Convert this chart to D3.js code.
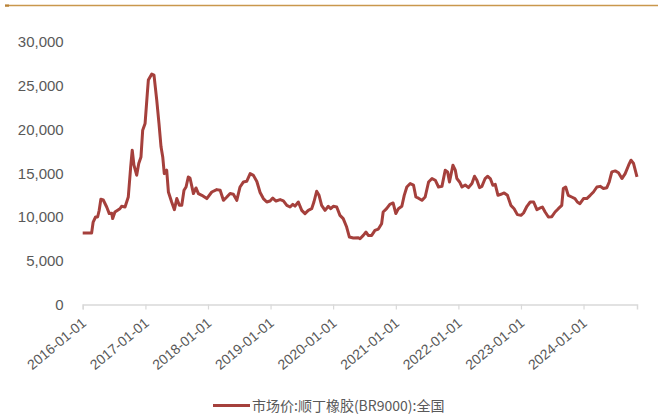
<!DOCTYPE html>
<html>
<head>
<meta charset="utf-8">
<script src="https://cdn.jsdelivr.net/npm/d3@7/dist/d3.min.js"></script>
<style>
  html, body { margin: 0; padding: 0; background: #fff; }
  svg { display: block; }
  text { font-family: "Liberation Sans", Arial, "Noto Sans CJK SC", sans-serif; fill: #595959; }
</style>
</head>
<body>
<svg id="chart" width="658" height="420"></svg>
<script>
// 市场价:顺丁橡胶(BR9000):全国 — 元/吨
const seriesName = "市场价:顺丁橡胶(BR9000):全国";

const dates = [
  "2016-01-01","2016-02-22","2016-03-02","2016-03-16","2016-03-28","2016-04-06","2016-04-16","2016-04-30",
  "2016-05-20","2016-06-04","2016-06-18","2016-06-24","2016-07-07","2016-08-05","2016-08-15","2016-09-04",
  "2016-09-23","2016-10-07","2016-10-16","2016-10-26","2016-11-11","2016-11-23","2016-12-06","2016-12-16",
  "2016-12-30","2017-01-12","2017-01-18","2017-02-07","2017-02-20","2017-03-08","2017-03-21","2017-04-02",
  "2017-04-12","2017-04-21","2017-05-05","2017-05-15","2017-06-03","2017-06-19","2017-07-03","2017-07-18",
  "2017-08-01","2017-08-14","2017-08-26","2017-09-08","2017-09-18","2017-10-08","2017-10-23","2017-11-06",
  "2017-11-26","2017-12-25","2018-01-23","2018-02-21","2018-03-13","2018-04-01","2018-04-21","2018-05-10",
  "2018-05-29","2018-06-18","2018-07-07","2018-07-27","2018-08-15","2018-09-04","2018-09-23","2018-10-13",
  "2018-11-01","2018-11-20","2018-12-10","2018-12-29","2019-01-14","2019-02-02","2019-02-26","2019-03-17",
  "2019-04-06","2019-04-25","2019-05-11","2019-05-24","2019-06-12","2019-07-02","2019-07-21","2019-08-09",
  "2019-08-29","2019-09-11","2019-09-27","2019-10-11","2019-10-26","2019-11-15","2019-12-04","2019-12-18",
  "2020-01-02","2020-01-22","2020-02-10","2020-02-29","2020-03-20","2020-04-05","2020-04-28","2020-05-27",
  "2020-06-06","2020-06-25","2020-07-11","2020-07-24","2020-08-13","2020-09-01","2020-09-21","2020-10-10",
  "2020-10-19","2020-11-08","2020-11-27","2020-12-16","2021-01-01","2021-01-16","2021-02-05","2021-02-19",
  "2021-03-06","2021-03-26","2021-04-14","2021-04-28","2021-05-13","2021-06-02","2021-06-21","2021-07-11",
  "2021-07-31","2021-08-19","2021-09-07","2021-09-27","2021-10-16","2021-10-30","2021-11-10","2021-11-30",
  "2021-12-14","2021-12-23","2022-01-08","2022-01-22","2022-02-10","2022-03-01","2022-03-21","2022-04-05",
  "2022-04-19","2022-05-04","2022-05-18","2022-06-06","2022-06-20","2022-07-06","2022-07-21","2022-08-04",
  "2022-08-20","2022-09-06","2022-09-25","2022-10-14","2022-11-03","2022-11-22","2022-12-11","2023-01-01",
  "2023-01-16","2023-02-05","2023-02-24","2023-03-16","2023-04-04","2023-04-23","2023-05-06","2023-05-22",
  "2023-06-10","2023-06-30","2023-07-19","2023-08-07","2023-08-27","2023-09-05","2023-09-19","2023-10-04",
  "2023-10-24","2023-11-12","2023-11-26","2023-12-11","2024-01-01","2024-01-20","2024-02-09","2024-02-28",
  "2024-03-19","2024-04-07","2024-04-26","2024-05-16","2024-05-30","2024-06-14","2024-07-04","2024-07-23",
  "2024-08-12","2024-08-31","2024-09-20","2024-10-04","2024-10-19","2024-11-08"
];

const prices = [
  8130, 8130, 9390, 9960, 9960, 10700, 11980, 11900,
  11100, 10350, 10400, 9780, 10530, 10900, 11180, 11100,
  12240, 15660, 17570, 15860, 14720, 16050, 16800, 19850,
  20610, 24030, 25550, 26240, 26120, 23270, 20610, 17950,
  16800, 14900, 15290, 12810, 11670, 10800, 12060, 11290,
  11290, 13000, 13380, 14520, 14400, 12630, 13270, 12630,
  12430, 12060, 12810, 13080, 13000, 11860, 12240, 12630,
  12550, 11860, 13380, 13950, 14030, 14900, 14700, 14000,
  12750, 12060, 11670, 11780, 12120, 11780, 11940, 11800,
  11290, 11100, 11410, 11200, 11670, 10720, 10350, 10720,
  10910, 11670, 12890, 12430, 11290, 10720, 11180, 10910,
  11180, 11100, 10150, 9780, 8820, 7680, 7570, 7610,
  7490, 7870, 8250, 7870, 7870, 8440, 8590, 9200,
  10530, 10910, 11410, 11560, 10350, 10910, 11180, 12430,
  13380, 13770, 13600, 12240, 12100, 11860, 12240, 13950,
  14340, 14150, 13380, 13450, 15290, 15100, 13950, 15860,
  15290, 14340, 13950, 13380, 13600, 13310, 13770, 14600,
  14150, 13310, 13450, 14340, 14600, 14340, 13570, 13680,
  12430, 12550, 12700, 12430, 11290, 10910, 10230, 10150,
  10420, 11180, 11670, 11670, 10800, 10990, 11100, 10530,
  9960, 10000, 10530, 10910, 11290, 13200, 13380, 12430,
  12240, 12060, 11670, 11480, 12060, 12060, 12430, 12810,
  13380, 13450, 13200, 13300, 13950, 15100, 15210, 15000,
  14340, 14900, 15860, 16430, 16050, 14520
];

const yTicks = [0, 5000, 10000, 15000, 20000, 25000, 30000];
const xTickDates = ["2016-01-01","2017-01-01","2018-01-01","2019-01-01","2020-01-01",
                    "2021-01-01","2022-01-01","2023-01-01","2024-01-01"];

const parse = d3.utcParse("%Y-%m-%d");
const data = dates.map((d, i) => ({ date: parse(d), value: prices[i] }));

const svg = d3.select("#chart");
const plotLeft = 82.7, plotRight = 637, plotTop = 41, plotBottom = 304.5;

const x = d3.scaleUtc()
  .domain(d3.extent(data, d => d.date))
  .range([plotLeft, plotRight]);

const y = d3.scaleLinear()
  .domain([0, 30000])
  .range([plotBottom, plotTop]);

// decorative rule across the top
svg.append("line")
  .attr("x1", 5).attr("x2", 658).attr("y1", 5.5).attr("y2", 5.5)
  .attr("stroke", "#c9974c").attr("stroke-width", 1.3);
svg.append("rect")
  .attr("x", 5).attr("y", 4.5).attr("width", 4).attr("height", 2.2)
  .attr("fill", "#b88237");

// y axis labels (no axis line)
const yAxis = svg.append("g")
  .attr("transform", `translate(${plotLeft - 19},0)`)
  .call(d3.axisLeft(y).tickValues(yTicks).tickSize(0).tickPadding(0)
    .tickFormat(d3.format(",")));
yAxis.select(".domain").remove();
yAxis.selectAll("text")
  .style("font-size", "15px").attr("fill", "#595959")
  .attr("dy", "0.35em");

// x axis
const xAxis = svg.append("g")
  .attr("transform", `translate(0,${plotBottom})`)
  .call(d3.axisBottom(x).tickValues(xTickDates.map(parse)).tickSize(5)
    .tickFormat(d3.utcFormat("%Y-%m-%d")));
xAxis.select(".domain").attr("stroke", "#d9d9d9").attr("stroke-width", 1.5);
xAxis.selectAll(".tick line").attr("stroke", "#d9d9d9").attr("stroke-width", 1.2);
xAxis.selectAll(".tick text")
  .style("font-size", "14px").attr("fill", "#595959")
  .attr("text-anchor", "end")
  .attr("dy", null).attr("y", 0)
  .attr("transform", "translate(4,20) rotate(-40)");

// price line
const line = d3.line()
  .x(d => x(d.date))
  .y(d => y(d.value));

svg.append("path")
  .datum(data)
  .attr("fill", "none")
  .attr("stroke", "#a5403c")
  .attr("stroke-width", 3)
  .attr("stroke-linejoin", "round")
  .attr("d", line);

// legend
const legend = svg.append("g").attr("transform", "translate(213,405.5)");
legend.append("line")
  .attr("x1", 0).attr("x2", 37).attr("y1", 0).attr("y2", 0)
  .attr("stroke", "#a5403c").attr("stroke-width", 3);
legend.append("text")
  .attr("x", 39).attr("y", 0).attr("dy", "0.36em")
  .style("font-size", "14px")
  .style("font-family", "'Noto Sans CJK SC', 'Liberation Sans', sans-serif")
  .attr("fill", "#595959")
  .text(seriesName);
</script>
</body>
</html>
